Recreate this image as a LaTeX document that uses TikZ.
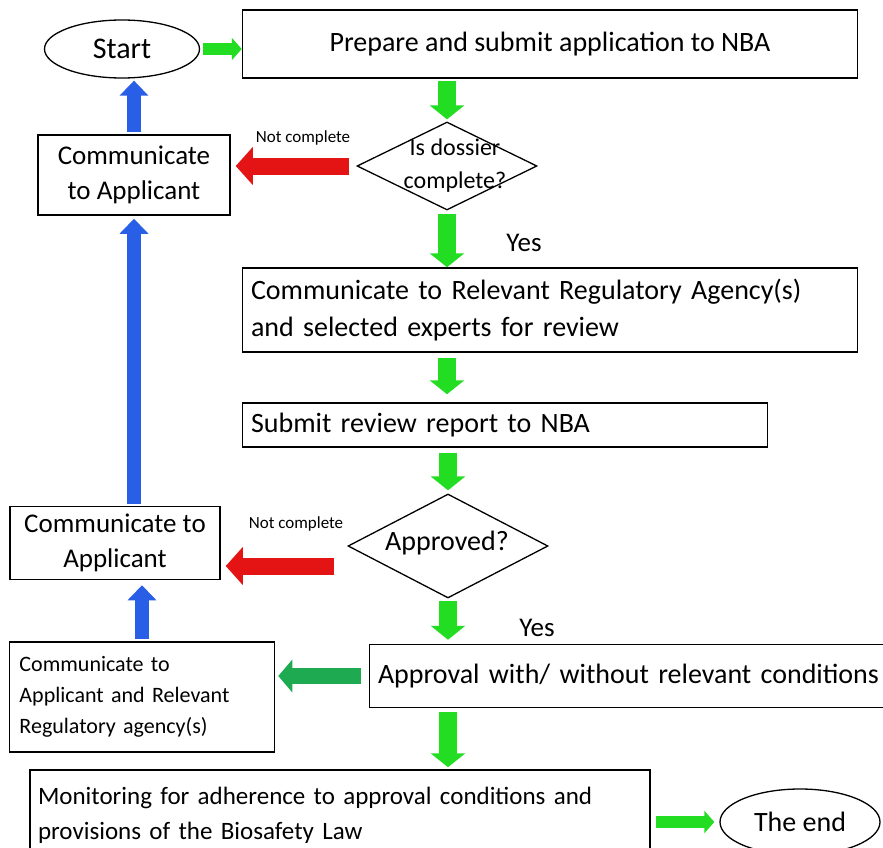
\documentclass[tikz,border=0pt]{standalone}
\usepackage{fontspec}
\setmainfont{Carlito}
\usetikzlibrary{arrows.meta,shapes.geometric}

\definecolor{flowgreen}{RGB}{34,221,34}
\definecolor{sidegreen}{RGB}{30,170,80}
\definecolor{flowred}{RGB}{228,20,20}
\definecolor{flowblue}{RGB}{40,95,230}

\tikzset{
  box/.style={draw, rectangle, line width=1.5pt, inner xsep=8pt, font=\fontsize{28}{37}\selectfont},
  term/.style={draw, ellipse, line width=1.3pt, font=\fontsize{28}{30}\selectfont},
  decide/.style={draw, diamond, line width=1.3pt, inner sep=0pt},
  lbl/.style={inner sep=0pt, font=\fontsize{27}{33}\selectfont},
  tiny/.style={inner sep=0pt, font=\fontsize{17}{19}\selectfont},
  down/.style={flowgreen, line width=18pt, -{Triangle[length=14pt, width=34pt]}},
  side/.style={flowgreen, line width=12pt, -{Triangle[length=10pt, width=22pt]}},
  left/.style={sidegreen, line width=16pt, -{Triangle[length=14pt, width=32pt]}},
  back/.style={flowred, line width=17pt, -{Triangle[length=17pt, width=37pt]}},
  up/.style={flowblue, line width=14pt, -{Triangle[length=15pt, width=28pt]}}
}

\begin{document}
\begin{tikzpicture}[x=1pt, y=-1pt]
  \useasboundingbox (0,0) rectangle (883,848);

  % main column
  \node[term, minimum width=155pt, minimum height=58pt, font=\fontsize{30}{30}\selectfont] (start) at (122,49) {Start};
  \node[box, minimum width=615pt, minimum height=68pt] (prep) at (550,44) {Prepare and submit application to NBA};
  \node[decide, minimum width=180pt, minimum height=88pt] (dos) at (447,166) {};
  \node[lbl, align=center, font=\fontsize{24}{33}\selectfont] (dostxt) at (455,166) {Is dossier\\complete?};
  \node[box, minimum width=615pt, minimum height=84pt, text width=598pt, align=left] (rev) at (550,310)
    {Communicate to Relevant Regulatory Agency(s)\\and selected experts for review};
  \node[box, minimum width=525pt, minimum height=44pt, text width=508pt, align=left] (sub) at (505,425)
    {Submit review report to NBA};
  \node[decide, minimum width=200pt, minimum height=104pt] (appr) at (448,546) {};
  \node[lbl, font=\fontsize{28}{30}\selectfont] (apprtxt) at (447,543) {Approved?};
  \node[box, minimum width=525pt, minimum height=63pt, text width=508pt, align=left] (cond) at (632,676)
    {Approval with/ without relevant conditions};
  \node[box, minimum width=620pt, minimum height=90pt, text width=604pt, align=left, font=\fontsize{25}{35}\selectfont] (mon) at (340,815)
    {Monitoring for adherence to approval conditions and\\provisions of the Biosafety Law};
  \node[term, minimum width=160pt, minimum height=66pt] (end) at (800,822) {The end};

  % side boxes
  \node[box, minimum width=192pt, minimum height=80pt, align=center, font=\fontsize{27}{35}\selectfont] (app1) at (134,175)
    {Communicate\\to Applicant};
  \node[box, minimum width=210pt, minimum height=73pt, align=center, font=\fontsize{27}{35}\selectfont] (app2) at (115,543)
    {Communicate to\\Applicant};
  \node[box, minimum width=265pt, minimum height=110pt, text width=245pt, inner xsep=10pt, align=left, font=\fontsize{22}{31}\selectfont] (notify) at (142,697)
    {Communicate to\\Applicant and Relevant\\Regulatory agency(s)};

  % labels
  \node[tiny] (nc1) at (303,138) {Not complete};
  \node[tiny] (nc2) at (296,524) {Not complete};
  \node[lbl] (yes1) at (524,243) {Yes};
  \node[lbl] (yes2) at (537,628) {Yes};
  \coordinate (r2) at ([yshift=-20pt]appr.west);

  % arrows
  \draw[side, shorten <=3pt] (start.east) -- (start.east -| prep.west);
  \draw[down, shorten <=2pt, shorten >=2pt] (prep.south -| dos.north) -- (dos.north);
  \draw[down, shorten <=3pt] (dos.south) -- (dos.south |- rev.north);
  \draw[down, shorten <=5pt, shorten >=8pt] (rev.south -| dos.south) -- (sub.north -| dos.south);
  \draw[down, shorten <=5pt, shorten >=3pt] (sub.south -| appr.north) -- (appr.north);
  \draw[down, shorten <=2pt, shorten >=4pt] (appr.south) -- (appr.south |- cond.north);
  \draw[down, shorten <=4pt, shorten >=2pt] (cond.south -| appr.south) -- (mon.north -| appr.south);
  \draw[side, shorten <=5pt, shorten >=5pt] (mon.east |- end.west) -- (end.west);
  \draw[back, shorten <=7pt, shorten >=5pt] (dos.west) -- (dos.west -| app1.east);
  \draw[back, shorten <=13pt, shorten >=5pt] (r2) -- (r2 -| app2.east);
  \draw[left, shorten <=8pt, shorten >=3pt] (cond.west) -- (cond.west -| notify.east);
  \draw[up, shorten <=2pt, shorten >=2pt] (app1.north) -- (app1.north |- start.south);
  \draw[up, shorten <=2pt, shorten >=3pt] (app1.south |- app2.north) -- (app1.south);
  \draw[up, shorten <=2pt, shorten >=5pt] (notify.north) -- (notify.north |- app2.south);
\end{tikzpicture}
\end{document}
